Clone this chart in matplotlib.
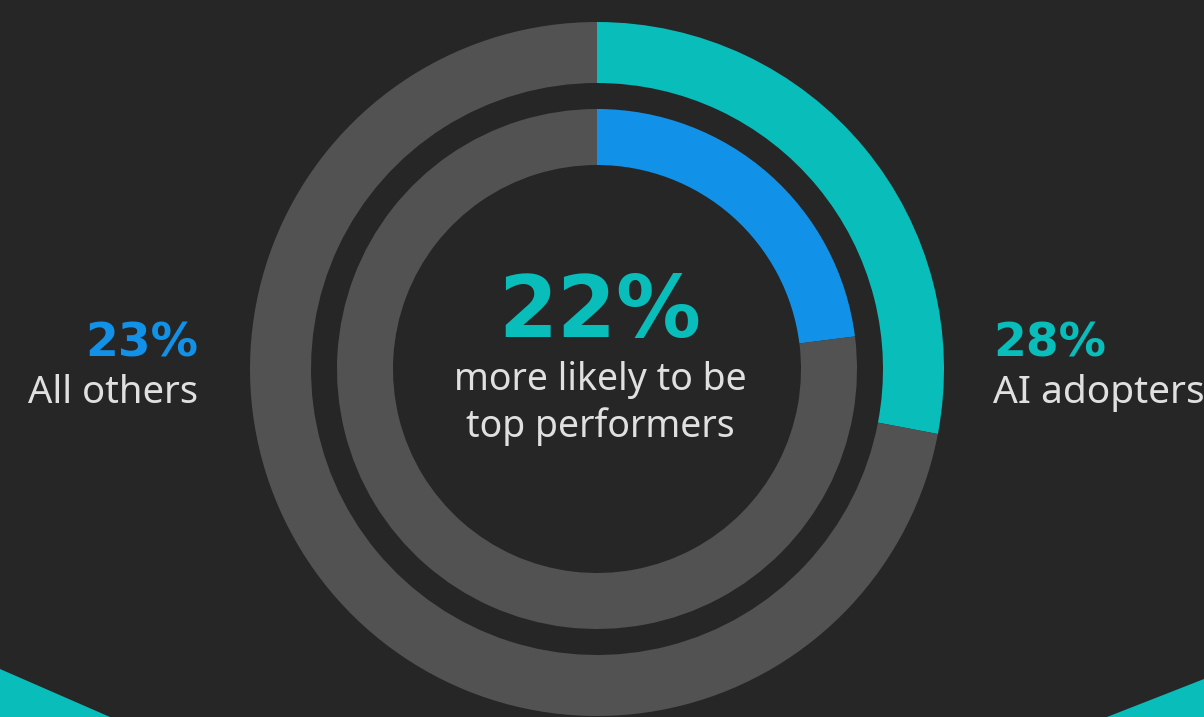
import matplotlib
matplotlib.use("Agg")
import matplotlib.pyplot as plt
from matplotlib.patches import Polygon

# Data
groups = ["AI adopters", "All others"]
shares = [28, 23]           # percent top performers
headline = "22%"
headline_sub = ["more likely to be", "top performers"]

BG = "#262626"
TEAL = "#08bdba"
BLUE = "#1192e8"
GRAY = "#525252"
TXT = "#e0e0e0"

W, H = 1204, 717
fig = plt.figure(figsize=(W / 100, H / 100), dpi=100, facecolor=BG)
ax = fig.add_axes([0, 0, 1, 1])
ax.set_facecolor(BG)

cx, cy = 597, H - 369
# outer ring: AI adopters
ax.pie([shares[0], 100 - shares[0]], colors=[TEAL, GRAY], startangle=90,
       counterclock=False, radius=347, center=(cx, cy),
       wedgeprops=dict(width=61, linewidth=0))
# inner ring: All others
ax.pie([shares[1], 100 - shares[1]], colors=[BLUE, GRAY], startangle=90,
       counterclock=False, radius=260, center=(cx, cy),
       wedgeprops=dict(width=56, linewidth=0))

ax.set_xlim(0, W)
ax.set_ylim(0, H)
ax.set_aspect("equal")
ax.axis("off")

# decorative corner triangles
ax.add_patch(Polygon([(0, H - 669), (110, 0), (0, 0)], closed=True, color=TEAL, lw=0))
ax.add_patch(Polygon([(W, H - 679), (1107, 0), (W, 0)], closed=True, color=TEAL, lw=0))

fam = ["Noto Sans", "DejaVu Sans"]
famb = ["DejaVu Sans"]
ax.text(600, H - 313, headline, color=TEAL, fontsize=61, fontweight="bold",
        ha="center", va="center", family=famb)
ax.text(600, H - 380, headline_sub[0], color=TXT, fontsize=27, ha="center",
        va="center", family=fam)
ax.text(600, H - 427, headline_sub[1], color=TXT, fontsize=27, ha="center",
        va="center", family=fam)

ax.text(198, H - 344, f"{shares[1]}%", color=BLUE, fontsize=34, fontweight="bold",
        ha="right", va="center", family=famb)
ax.text(198, H - 393, groups[1], color=TXT, fontsize=27.5, ha="right",
        va="center", family=fam)

ax.text(993, H - 344, f"{shares[0]}%", color=TEAL, fontsize=34, fontweight="bold",
        ha="left", va="center", family=famb)
ax.text(993, H - 393, groups[0], color=TXT, fontsize=28, ha="left",
        va="center", family=fam)

fig.savefig("out.png", dpi=100, facecolor=BG)
